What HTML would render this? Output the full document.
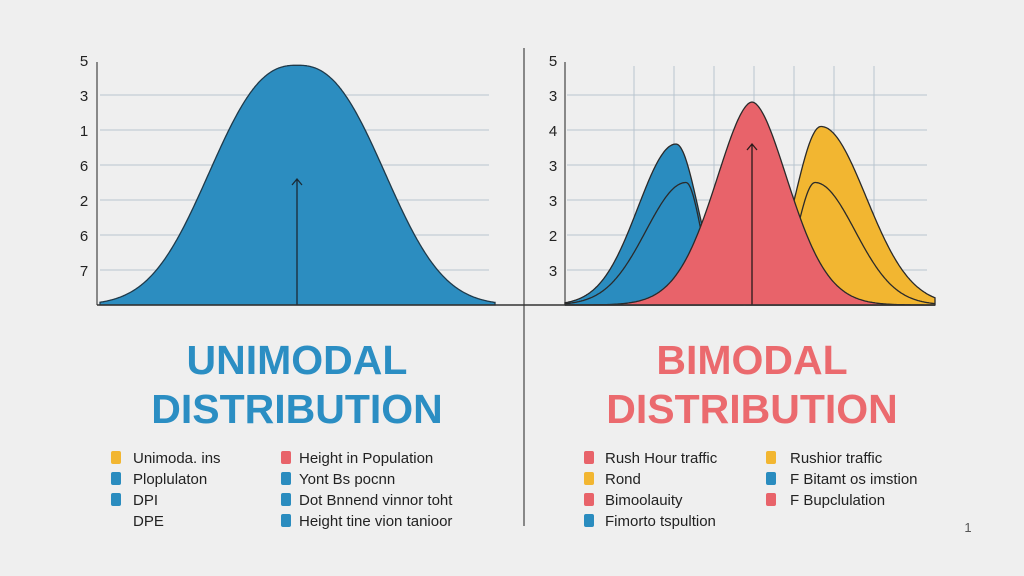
<!DOCTYPE html>
<html><head><meta charset="utf-8">
<style>
body{margin:0;background:#efefef;}
svg{display:block;font-family:"Liberation Sans",sans-serif;}
</style></head>
<body>
<svg id="c" width="1024" height="576" viewBox="0 0 1024 576">
<rect width="1024" height="576" fill="#efefef"/>
<g id="left"></g>
<g id="right"></g>
<line x1="524" y1="48" x2="524" y2="526" stroke="#444" stroke-width="1.2"/>
<line x1="97" y1="305" x2="935" y2="305" stroke="#333" stroke-width="1.5"/>
<text x="297" y="374" text-anchor="middle" font-size="41" font-weight="bold" fill="#2b8ec3">UNIMODAL</text>
<text x="297" y="423" text-anchor="middle" font-size="41" font-weight="bold" fill="#2b8ec3">DISTRIBUTION</text>
<text x="752" y="374" text-anchor="middle" font-size="41" font-weight="bold" fill="#eb6a6e">BIMODAL</text>
<text x="752" y="423" text-anchor="middle" font-size="41" font-weight="bold" fill="#eb6a6e">DISTRIBUTION</text>
<g id="legend"></g>
<text x="968" y="532" font-size="13" fill="#555" text-anchor="middle">1</text>
</svg>
<script>
const NS="http://www.w3.org/2000/svg";
const leftTicks=["5","3","1","6","2","6","7"];
const rightTicks=["5","3","4","3","3","2","3"];
const uniCenter=[297];
const uniHeight=[6.85];
const uniSigmaL=[82];
const uniSigmaR=[82];
const uniPower=[2.5];
const biNames=["blue-peak","red-peak","yellow-peak"];
const biColors=["#2a8cbf","#e8636a","#f2b631"];
const biCenter=[676,752,821];
const biHeight=[4.6,5.8,5.1];
const biSigmaL=[38,36,26];
const biSigmaR=[22,36,45];
const biPower=[2,1.8,2];
const innerCenter=[686,815];
const innerHeight=[3.5,3.5];
const innerSigmaL=[40,18];
const innerSigmaR=[15,40];
const legendLeft=[["#f2b631","Unimoda. ins"],["#2a8cbf","Ploplulaton"],["#2a8cbf","DPI"],[null,"DPE"],["#e8636a","Height in Population"],["#2a8cbf","Yont Bs pocnn"],["#2a8cbf","Dot Bnnend vinnor toht"],["#2a8cbf","Height tine vion tanioor"]];
const legendRight=[["#e8636a","Rush Hour traffic"],["#f2b631","Rond"],["#e8636a","Bimoolauity"],["#2a8cbf","Fimorto tspultion"],["#f2b631","Rushior traffic"],["#2a8cbf","F Bitamt os imstion"],["#e8636a","F Bupclulation"]];

const y=v=>305-v*35;
function f(x,c,h,sl,sr,p){const s=x<c?sl:sr;return h*Math.exp(-0.5*Math.pow(Math.abs(x-c)/s,p));}
function mk(tag,attrs,parent){const e=document.createElementNS(NS,tag);for(const k in attrs)e.setAttribute(k,attrs[k]);parent.appendChild(e);return e;}
function curvePath(x0,x1,fn,close){let d="";for(let x=x0;x<=x1;x+=1){d+=(x===x0?"M":"L")+x+","+y(fn(x)).toFixed(1);}if(close)d+="L"+x1+",305L"+x0+",305Z";return d;}

const L=document.getElementById("left"),R=document.getElementById("right");
leftTicks.forEach((t,i)=>{
  if(i>0){const g=mk("line",{x1:100,x2:489,y1:y(7-i),y2:y(7-i),stroke:"#b9c4cf","stroke-width":1},L);
  
  }
  const tx=mk("text",{x:84,y:y(7-i)+6,"font-size":15,fill:"#222","text-anchor":"middle"},L);tx.textContent=t;
  
  
});
const la=mk("line",{x1:97,y1:62,x2:97,y2:305,stroke:"#444","stroke-width":1.2},L);


uniCenter.forEach((c,i)=>{
  const p=mk("path",{d:curvePath(100,495,x=>f(x,c,uniHeight[i],uniSigmaL[i],uniSigmaR[i],uniPower[i]),true),fill:"#2c8dc0",stroke:"#1f3a4a","stroke-width":1.3},L);
  
  
  const a=mk("path",{d:`M${c},305L${c},${y(3.6)}M${c-5},${y(3.6)+6}L${c},${y(3.6)}L${c+5},${y(3.6)+6}`,stroke:"#1a2a35",fill:"none","stroke-width":1.3},L);
  
  
});
rightTicks.forEach((t,i)=>{
  if(i>0){const g=mk("line",{x1:567,x2:927,y1:y(7-i),y2:y(7-i),stroke:"#b9c4cf","stroke-width":1},R);
  
  }
  const tx=mk("text",{x:553,y:y(7-i)+6,"font-size":15,fill:"#222","text-anchor":"middle"},R);tx.textContent=t;
  
  
});
for(let k=0;k<7;k++){const v=mk("line",{x1:634+k*40,x2:634+k*40,y1:66,y2:305,stroke:"#b9c4cf","stroke-width":1},R);
  
  }
const ra=mk("line",{x1:565,y1:62,x2:565,y2:305,stroke:"#444","stroke-width":1.2},R);


function drawPeak(i){
  const p=mk("path",{d:curvePath(565,935,x=>f(x,biCenter[i],biHeight[i],biSigmaL[i],biSigmaR[i],biPower[i]),true),fill:biColors[i],stroke:"#2a2a2a","stroke-width":1.3},R);
  
  
}
function drawInner(j){
  const pi=j*2;
  const p=mk("path",{d:curvePath(565,935,x=>Math.min(f(x,innerCenter[j],innerHeight[j],innerSigmaL[j],innerSigmaR[j],2),f(x,biCenter[pi],biHeight[pi],biSigmaL[pi],biSigmaR[pi],biPower[pi])),false),fill:"none",stroke:"#2a2a2a","stroke-width":1.3},R);
  
  
}
drawPeak(0);drawInner(0);drawPeak(2);drawInner(1);drawPeak(1);
const ar=mk("path",{d:`M752,305L752,${y(4.6)}M747,${y(4.6)+6}L752,${y(4.6)}L757,${y(4.6)+6}`,stroke:"#2a1a1a",fill:"none","stroke-width":1.3},R);


const G=document.getElementById("legend");
function legendItem(col,txt,sx,tx,ty){
  if(col){const r=mk("rect",{x:sx,y:ty-12,width:10,height:13,rx:2,fill:col},G);
  
  }
  const t=mk("text",{x:tx,y:ty,"font-size":15,fill:"#222"},G);t.textContent=txt;
  
  
}
legendLeft.forEach((e,i)=>{const c=i<4?0:1;const r=i%4;legendItem(e[0],e[1],c?281:111,c?299:133,463+r*21);});
legendRight.forEach((e,i)=>{const c=i<4?0:1;const r=c?i-4:i;legendItem(e[0],e[1],c?766:584,c?790:605,463+r*21);});
</script>
</body></html>
